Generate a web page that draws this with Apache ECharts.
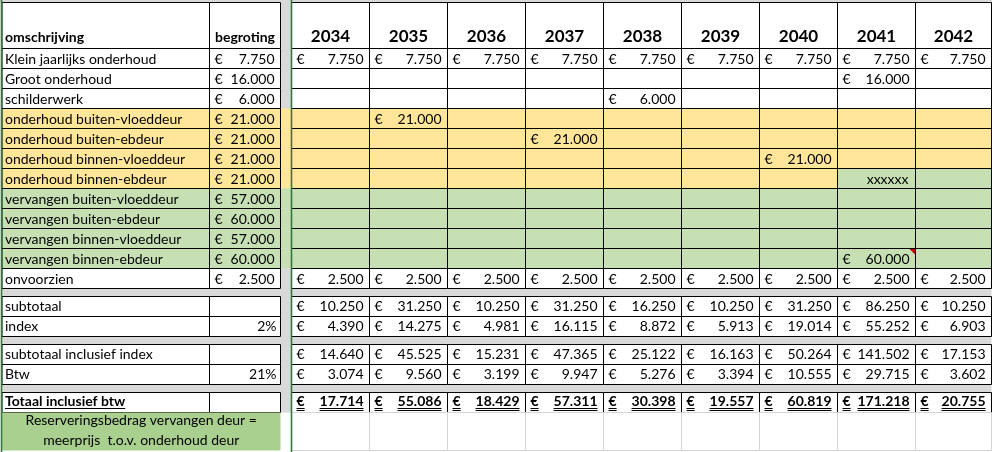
<!DOCTYPE html>
<html><head><meta charset="utf-8">
<script src="https://cdn.jsdelivr.net/npm/echarts@6/dist/echarts.min.js"></script>
<style>html,body{margin:0;padding:0;background:#fff}#c{width:992px;height:452px}</style>
</head><body><div id="c"></div>
<script>
// ---------------- DATA ----------------
const years = ['2034','2035','2036','2037','2038','2039','2040','2041','2042'];
const headerLabels = ['omschrijving','begroting'];
const itemNames = ['Klein jaarlijks onderhoud','Groot onderhoud','schilderwerk','onderhoud buiten-vloeddeur','onderhoud buiten-ebdeur','onderhoud binnen-vloeddeur','onderhoud binnen-ebdeur','vervangen buiten-vloeddeur','vervangen buiten-ebdeur','vervangen binnen-vloeddeur','vervangen binnen-ebdeur','onvoorzien'];
const itemBudget = [7750,16000,6000,21000,21000,21000,21000,57000,60000,57000,60000,2500];
const _ = null;
const plan = [
  [7750,7750,7750,7750,7750,7750,7750,7750,7750],
  [_,_,_,_,_,_,_,16000,_],
  [_,_,_,_,6000,_,_,_,_],
  [_,21000,_,_,_,_,_,_,_],
  [_,_,_,21000,_,_,_,_,_],
  [_,_,_,_,_,_,21000,_,_],
  [_,_,_,_,_,_,_,'xxxxxx',_],
  [_,_,_,_,_,_,_,_,_],
  [_,_,_,_,_,_,_,_,_],
  [_,_,_,_,_,_,_,_,_],
  [_,_,_,_,_,_,_,60000,_],
  [2500,2500,2500,2500,2500,2500,2500,2500,2500]
];
const summaryNames = ['subtotaal','index','subtotaal inclusief index','Btw','Totaal inclusief btw'];
const summaryRates = ['','2%','','21%',''];
const subtotaal = [10250,31250,10250,31250,16250,10250,31250,86250,10250];
const indexAmount = [4390,14275,4981,16115,8872,5913,19014,55252,6903];
const subtotaalInclIndex = [14640,45525,15231,47365,25122,16163,50264,141502,17153];
const btwAmount = [3074,9560,3199,9947,5276,3394,10555,29715,3602];
const totaal = [17714,55086,18429,57311,30398,19557,60819,171218,20755];
const noteLines = ['Reserveringsbedrag vervangen deur =','meerprijs  t.o.v. onderhoud deur'];
const commentCells = [[10,7]]; // [item row, year index]

// ---------------- LAYOUT / STYLE ----------------
const W = 992, H = 452;
const FONT = 'Lato, "Open Sans", sans-serif';
const BODY = 14, HEAD = 14, YEAR = 17, MID = 0.387;
const colA = [2, 209.5], colB = [209.5, 280.5], colG = [280.5, 291.5];
const yearEdges = [291.5,369.5,447.5,525.5,603.5,681.5,759.5,837.5,915.5,991.5];
const headerRow = [2.5, 48.5];
const itemTop = 48.5, rowH = 20;
const sumRows = [[296.5,316.5],[316.5,336.5],[344.5,364.5],[364.5,384.5],[392.5,412.5]];
const gapRows = [[288.5,296.5],[336.5,344.5],[384.5,392.5]];
const noteRow = [412.5, 450.5];
const C_Y = '#FFE699', C_G = '#C6E0B4', C_NOTE = '#A9D08E', C_GRAY = '#D9D9D9', C_LIGHT = '#D4D4D4', C_FREEZE = '#2F7A3F';
const itemFill = i => (i >= 3 && i <= 6) ? C_Y : (i >= 7 && i <= 10) ? C_G : '#FFFFFF';
const cellFillOverride = (i, y) => (i === 6 && y >= 7) ? C_G : null;

const fmt = n => String(n).replace(/\B(?=(\d{3})+(?!\d))/g, '.');
const fontStr = (s, b) => (b ? 'bold ' : '') + s + 'px ' + FONT;
const mctx = document.createElement('canvas').getContext('2d');
const textW = (t, s, b) => { mctx.font = fontStr(s, b); return mctx.measureText(t).width; };

// ---------------- CELL MODEL ----------------
const cells = [];
function add(c) { cells.push(c); }
// backgrounds
add({x:[0,W], y:[0,headerRow[0]], fill:C_GRAY});
add({x:colG, y:[0,noteRow[0]], fill:C_GRAY});
gapRows.forEach(g => add({x:[colA[0], yearEdges[9]], y:g, fill:C_GRAY}));
// header
add({x:colA, y:headerRow, fill:'#fff', stroke:true, texts:[{t:headerLabels[0], ax:'left', pad:3, s:HEAD, b:true, base:-5.5}]});
add({x:colB, y:headerRow, fill:'#fff', stroke:true, texts:[{t:headerLabels[1], ax:'center', s:HEAD, b:true, base:-5.5}]});
years.forEach((yv, k) => add({x:[yearEdges[k], yearEdges[k+1]], y:headerRow, fill:'#fff', stroke:true,
  texts:[{t:yv, ax:'center', s:YEAR, b:true, base:-5}]}));
// items
itemNames.forEach((nm, i) => {
  const yr = [itemTop + i*rowH, itemTop + (i+1)*rowH];
  const f = itemFill(i);
  if (f !== '#FFFFFF') add({x:colG, y:yr, fill:f});
  add({x:colA, y:yr, fill:f, stroke:true, texts:[{t:nm, ax:'left', pad:3, s:BODY, base:-4}]});
  add({x:colB, y:yr, fill:f, stroke:true, texts:[{t:'€', ax:'left', pad:5, s:BODY, base:-4},{t:fmt(itemBudget[i]), ax:'right', pad:6, s:BODY, base:-4}]});
  plan[i].forEach((v, k) => {
    const texts = [];
    if (typeof v === 'number') { texts.push({t:'€', ax:'left', pad:5, s:BODY, base:-4}); texts.push({t:fmt(v), ax:'right', pad:6, s:BODY, base:-4}); }
    else if (typeof v === 'string') texts.push({t:v, ax:'right', pad:7, s:BODY, base:-4});
    const comment = commentCells.some(cc => cc[0] === i && cc[1] === k);
    add({x:[yearEdges[k], yearEdges[k+1]], y:yr, fill:cellFillOverride(i,k) || f, stroke:true, texts, comment});
  });
});
// summary rows
const sumValues = [subtotaal, indexAmount, subtotaalInclIndex, btwAmount, totaal];
summaryNames.forEach((nm, r) => {
  const yr = sumRows[r], bold = r === 4, base = bold ? -5.5 : -4.3;
  add({x:colA, y:yr, fill:'#fff', stroke:true, texts:[{t:nm, ax:'left', pad:3, s:BODY, b:bold, base, ul: bold ? 1 : 0}]});
  add({x:colB, y:yr, fill:'#fff', stroke:true, texts: summaryRates[r] ? [{t:summaryRates[r], ax:'right', pad:4, s:BODY, base}] : []});
  sumValues[r].forEach((v, k) => add({x:[yearEdges[k], yearEdges[k+1]], y:yr, fill:'#fff', stroke:true,
    texts:[{t:'€', ax:'left', pad:5, s:BODY, b:bold, base, ul: bold ? 2 : 0},{t:fmt(v), ax:'right', pad:6, s:BODY, b:bold, base, ul: bold ? 2 : 0}]}));
});
// note row
add({x:[colA[0], colB[1]], y:noteRow, fill:C_NOTE, texts:[
  {t:noteLines[0], ax:'center', s:BODY, top:13.5},
  {t:noteLines[1], ax:'center', s:BODY, top:33.5}]});
years.forEach((yv, k) => add({x:[yearEdges[k], yearEdges[k+1]], y:[noteRow[0], noteRow[1]], fill:'#fff', light:true}));
// freeze lines
add({vline:[1.5, 0, H]});
add({vline:[291.5, 0, H]});

// ---------------- RENDER ----------------
function renderItem(params, api) {
  const c = cells[params.dataIndex];
  const children = [];
  if (c.vline) {
    const p0 = api.coord([c.vline[0], c.vline[1]]), p1 = api.coord([c.vline[0], c.vline[2]]);
    return {type:'line', shape:{x1:p0[0], y1:p0[1], x2:p1[0], y2:p1[1]}, style:{stroke:C_FREEZE, lineWidth:1.6}};
  }
  const p0 = api.coord([c.x[0], c.y[0]]), p1 = api.coord([c.x[1], c.y[1]]);
  const x0 = p0[0], y0 = p0[1], x1 = p1[0], y1 = p1[1];
  children.push({type:'rect', shape:{x:x0, y:y0, width:x1-x0, height:y1-y0},
    style:{fill:c.fill, stroke: c.stroke ? '#000' : (c.light ? C_LIGHT : null), lineWidth:1}});
  (c.texts || []).forEach(t => {
    const w = textW(t.t, t.s, t.b);
    let tx, left;
    if (t.ax === 'left') { tx = x0 + t.pad; left = tx; }
    else if (t.ax === 'right') { tx = x1 - t.pad; left = tx - w; }
    else { tx = (x0 + x1) / 2; left = tx - w/2; }
    const baseline = t.top != null ? y0 + t.top : y1 + t.base;
    children.push({type:'text', style:{text:t.t, x:tx, y:baseline - MID*t.s, font:fontStr(t.s, t.b), fill:'#000', align:t.ax, verticalAlign:'middle'}});
    if (t.ul === 1) children.push({type:'line', shape:{x1:left, y1:baseline+1.5, x2:left+w, y2:baseline+1.5}, style:{stroke:'#000', lineWidth:1}});
    if (t.ul === 2) {
      children.push({type:'line', shape:{x1:left, y1:baseline+1.5, x2:left+w, y2:baseline+1.5}, style:{stroke:'#000', lineWidth:1}});
      children.push({type:'line', shape:{x1:left, y1:baseline+3.5, x2:left+w, y2:baseline+3.5}, style:{stroke:'#000', lineWidth:1}});
    }
  });
  if (c.comment) {
    children.push({type:'polygon', shape:{points:[[x1-6, y0+0.5],[x1-0.5, y0+0.5],[x1-0.5, y0+6]]}, style:{fill:'#C00000'}});
  }
  return {type:'group', children};
}

const chart = echarts.init(document.getElementById('c'), null, {renderer:'canvas'});
chart.setOption({
  animation:false,
  grid:{left:0, right:0, top:0, bottom:0},
  xAxis:{type:'value', min:0, max:W, show:false},
  yAxis:{type:'value', min:0, max:H, inverse:true, show:false},
  series:[{type:'custom', renderItem, data: cells.map((c, i) => [i]), silent:true, clip:false}]
});
</script></body></html>
